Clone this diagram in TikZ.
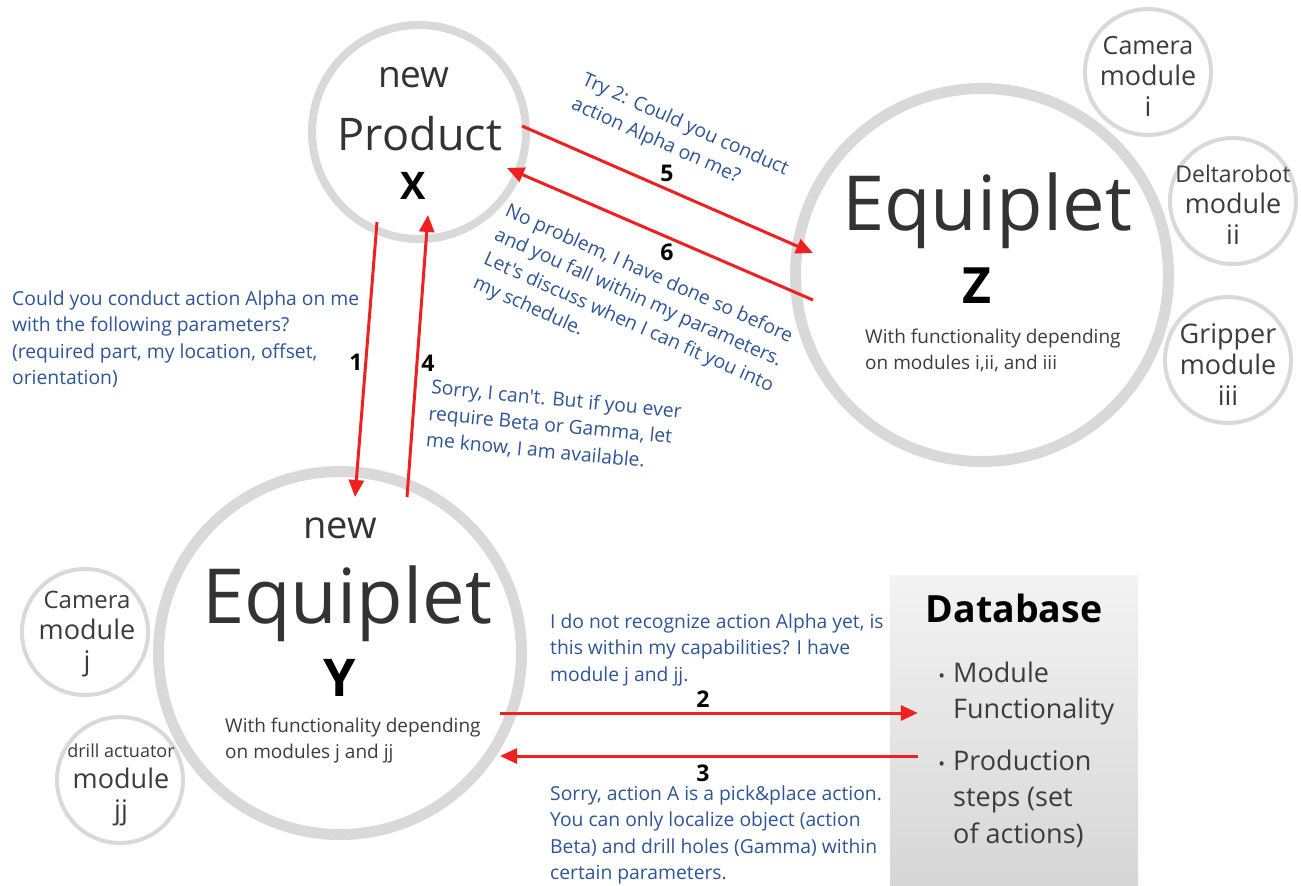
\documentclass[tikz,border=0pt]{standalone}
\usepackage{fontspec}
\setmainfont{Open Sans}[Ligatures=TeXOff]
\usetikzlibrary{arrows.meta,calc}
\definecolor{ring}{HTML}{D9D9D9}
\definecolor{msg}{HTML}{2E5597}
\definecolor{dark}{HTML}{333333}
\definecolor{mid}{HTML}{3C3C3C}
\definecolor{arr}{HTML}{EE2020}
\definecolor{dbtop}{HTML}{F3F3F3}
\definecolor{dbbot}{HTML}{D6D6D6}
\begin{document}
\begin{tikzpicture}[x=1pt,y=-1pt,
  bigring/.style={circle,draw=ring,inner sep=0pt},
  modring/.style={circle,draw=ring,line width=4pt,inner sep=0pt,minimum size=126pt},
  modtext/.style={align=center,text=mid,inner sep=0pt,font=\fontsize{27}{31}\selectfont},
  title/.style={anchor=base,text=dark,inner sep=0pt},
  ident/.style={anchor=base,text=black,inner sep=0pt},
  desc/.style={anchor=north west,align=left,text=mid,inner sep=0pt,font=\fontsize{19}{26.5}\selectfont},
  msgtext/.style={anchor=north west,align=left,text=msg,inner sep=0pt,font=\fontsize{19.3}{26.3}\selectfont},
  num/.style={text=black,inner sep=0pt,font=\fontsize{23}{25}\selectfont\bfseries},
  dbitem/.style={anchor=north west,align=left,text=mid,inner sep=0pt,font=\fontsize{27}{36.5}\selectfont},
  link/.style={draw=arr,line width=3pt,-{Triangle[length=17pt,width=15pt]}}
]
\useasboundingbox (0,0) rectangle (1301,886);
\fill[white] (0,0) rectangle (1301,886);

% database box
\node[top color=dbtop,bottom color=dbbot,minimum width=248pt,minimum height=311pt,inner sep=0pt] (DB) at (1014,730.5) {};

% main circles
\node[bigring,line width=8pt,minimum size=214pt] (X) at (419,132) {};
\node[bigring,line width=11pt,minimum size=373pt] (Z) at (982,275) {};
\node[bigring,line width=11pt,minimum size=363pt] (Y) at (340,653) {};

% module circles
\node[modring] (Mi) at (1148,72) {};
\node[modring] (Mii) at (1233,201) {};
\node[modring] (Miii) at (1228,360) {};
\node[modring] (Mj) at (85,632) {};
\node[modring] (Mjj) at (120,780) {};

% module texts
\node[modtext] (Ti) at (1148,76) {{\fontsize{25}{30}\selectfont Camera}\\module\\i};
\node[modtext] (Tii) at (1233,205) {{\fontsize{23}{28}\selectfont Deltarobot}\\module\\ii};
\node[modtext] (Tiii) at (1228,365) {Gripper\\module\\iii};
\node[modtext] (Tj) at (87,634) {{\fontsize{24}{30}\selectfont Camera}\\module\\j};
\node[modtext] (Tjj) at (121,785) {{\fontsize{18}{24}\selectfont drill actuator}\\module\\jj};

% product X
\node[title,font=\fontsize{37}{40}\selectfont] (Xnew) at (414,87) {new};
\node[title,font=\fontsize{45}{50}\selectfont] (Xname) at (420,150) {Product};
\node[ident,font=\fontsize{38}{40}\selectfont\bfseries] (Xid) at (413,199) {X};

% equiplet Z
\node[title,font=\fontsize{76}{80}\selectfont] (Zname) at (987,230) {Equiplet};
\node[ident,font=\fontsize{50}{52}\selectfont\bfseries] (Zid) at (977,303) {Z};
\node[desc] (Zdesc) at (865,328.6) {With functionality depending\\on modules i,ii, and iii};

% equiplet Y
\node[title,font=\fontsize{38}{40}\selectfont] (Ynew) at (340,538) {new};
\node[title,font=\fontsize{76}{80}\selectfont] (Yname) at (347,623) {Equiplet};
\node[ident,font=\fontsize{52}{54}\selectfont\bfseries] (Yid) at (340,696) {Y};
\node[desc] (Ydesc) at (225,717.6) {With functionality depending\\on modules j and jj};

% database content
\node[anchor=base,text=black,inner sep=0pt,font=\fontsize{37.5}{42}\selectfont\bfseries] (DBt) at (1014,622) {Database};
\node[dbitem] (B1) at (953,661.5) {\llap{\fontsize{18}{20}\selectfont•\hspace{8pt}}Module\\Functionality};
\node[dbitem] (B2) at (953,749.5) {\llap{\fontsize{18}{20}\selectfont•\hspace{8pt}}Production\\steps (set\\of actions)};

% messages
\node[msgtext] (m1) at (12,290.6) {Could you conduct action Alpha on me\\with the following parameters?\\(required part, my location, offset,\\orientation)};
\node[msgtext] (m2) at (550,613.6) {I do not recognize action Alpha yet, is\\this within my capabilities? I have\\module j and jj.};
\node[msgtext] (m3) at (550,785.6) {Sorry, action A is a pick\&place action.\\You can only localize object (action\\Beta) and drill holes (Gamma) within\\certain parameters.};
\node[msgtext,rotate=-5.5] (m4) at (432,379) {Sorry, I can't. But if you ever\\require Beta or Gamma, let\\me know, I am available.};
\node[msgtext,rotate=-24] (m5) at (587,71) {Try 2: Could you conduct\\action Alpha on me?};
\node[msgtext,rotate=-24] (m6) at (510,202) {No problem, I have done so before\\and you fall within my parameters.\\Let's discuss when I can fit you into\\my schedule.};

% connectors
\draw[link] ($(X.center)+(-42,90)$) -- ($(Y.center)+(15,-156)$);
\draw[link] ($(Y.center)+(160,60)$) -- ($(DB.west)+(28,-17.5)$);
\draw[link] ($(DB.west)+(28,25.5)$) -- ($(Y.center)+(160,103)$);
\draw[link] ($(Y.center)+(67,-156)$) -- ($(X.center)+(9,83)$);
\draw[link] ($(X.center)+(103,-6)$) -- ($(Z.center)+(-169,-22)$);
\draw[link] ($(Z.center)+(-169,25)$) -- ($(X.center)+(88,36)$);

% step numbers
\node[num] (n1) at (356,362) {1};
\node[num] (n2) at (703,699) {2};
\node[num] (n3) at (703,773) {3};
\node[num] (n4) at (428,363) {4};
\node[num] (n5) at (667,173) {5};
\node[num] (n6) at (667,252) {6};
\end{tikzpicture}
\end{document}
